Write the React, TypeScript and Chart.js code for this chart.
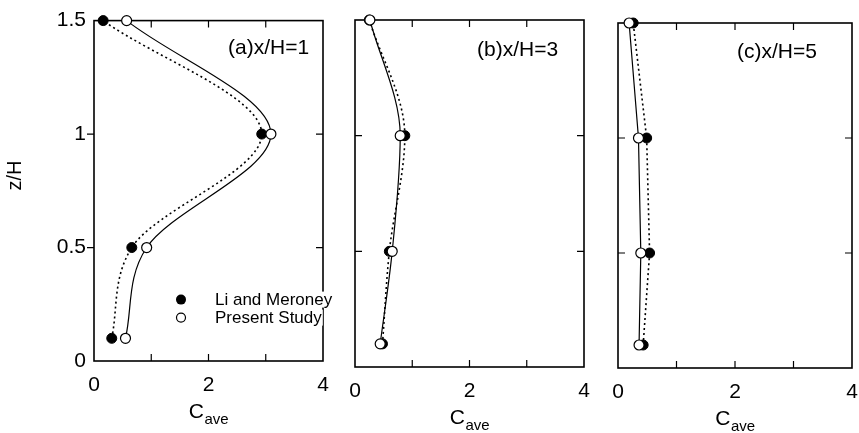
import React, { useEffect, useRef } from 'react';
import { Chart, registerables } from 'chart.js';

Chart.register(...registerables);

// ---- data ----
const zLevels = [0.1, 0.5, 1.0, 1.5];
const liMeroneyA = [0.31, 0.66, 2.93, 0.16];
const presentA = [0.55, 0.92, 3.09, 0.57];
const liMeroneyB = [0.48, 0.6, 0.87, 0.25];
const presentB = [0.44, 0.65, 0.79, 0.26];
const liMeroneyC = [0.43, 0.54, 0.49, 0.26];
const presentC = [0.36, 0.39, 0.35, 0.19];
const xTickValues = [0, 2, 4];
const yTickValues = [0, 0.5, 1, 1.5];
const xFrameTicks = [1, 2, 3];
const yFrameTicks = [0.5, 1];
const panelLabels = ['(a)x/H=1', '(b)x/H=3', '(c)x/H=5'];
const seriesNames = ['Li and Meroney', 'Present Study'];
const xTitleMain = 'C';
const xTitleSub = 'ave';
const yTitle = 'z/H';

const FONT = '"Liberation Sans", Arial, sans-serif';
const PAGE_H = 433;

type Area = { left: number; right: number; top: number; bottom: number };
type PanelSpec = {
  left: number;
  width: number;
  area: Area;
  li: number[];
  present: number[];
  label: string;
  labelDx: number;
  labelDy: number;
  showY: boolean;
  showLegend: boolean;
  smooth: boolean;
};

const panels: PanelSpec[] = [
  {
    left: 0, width: 345,
    area: { left: 94, right: 323, top: 15, bottom: 361 },
    li: liMeroneyA, present: presentA, label: panelLabels[0],
    labelDx: 134, labelDy: 28, showY: true, showLegend: true, smooth: true,
  },
  {
    left: 337, width: 268,
    area: { left: 355, right: 584, top: 20, bottom: 367 },
    li: liMeroneyB, present: presentB, label: panelLabels[1],
    labelDx: 122, labelDy: 30, showY: false, showLegend: false, smooth: true,
  },
  {
    left: 605, width: 254,
    area: { left: 618, right: 852, top: 23, bottom: 368 },
    li: liMeroneyC, present: presentC, label: panelLabels[2],
    labelDx: 119, labelDy: 29, showY: false, showLegend: false, smooth: false,
  },
];

function makePlugin(spec: PanelSpec) {
  return {
    id: 'frameAndText',
    beforeDatasetsDraw(chart: any) {
      const { ctx, chartArea: a, scales } = chart;
      ctx.save();
      ctx.strokeStyle = '#000';
      ctx.lineWidth = 1.6;
      ctx.strokeRect(a.left, a.top, a.right - a.left, a.bottom - a.top);
      ctx.lineWidth = 1.2;
      const L = 7;
      ctx.beginPath();
      for (const v of xFrameTicks) {
        const px = scales.x.getPixelForValue(v);
        ctx.moveTo(px, a.bottom);
        ctx.lineTo(px, a.bottom - L);
        ctx.moveTo(px, a.top);
        ctx.lineTo(px, a.top + L);
      }
      for (const v of yFrameTicks) {
        const py = scales.y.getPixelForValue(v);
        if (spec.showY) {
          ctx.moveTo(a.left - L, py);
          ctx.lineTo(a.left, py);
        } else {
          ctx.moveTo(a.left, py);
          ctx.lineTo(a.left + L, py);
        }
        ctx.moveTo(a.right, py);
        ctx.lineTo(a.right - L, py);
      }
      ctx.stroke();
      ctx.restore();
    },
    afterDraw(chart: any) {
      const { ctx, chartArea: a } = chart;
      ctx.save();
      ctx.fillStyle = '#000';
      // panel label
      ctx.font = `21px ${FONT}`;
      ctx.textAlign = 'left';
      ctx.textBaseline = 'middle';
      ctx.fillText(spec.label, a.left + spec.labelDx, a.top + spec.labelDy);

      // x title C_ave
      const cx = (a.left + a.right) / 2;
      ctx.font = `21px ${FONT}`;
      const wMain = ctx.measureText(xTitleMain).width;
      ctx.font = `15px ${FONT}`;
      const wSub = ctx.measureText(xTitleSub).width;
      const x0 = cx - (wMain + wSub) / 2;
      ctx.textBaseline = 'alphabetic';
      ctx.font = `21px ${FONT}`;
      ctx.fillText(xTitleMain, x0, a.bottom + 57);
      ctx.font = `15px ${FONT}`;
      ctx.fillText(xTitleSub, x0 + wMain + 0.5, a.bottom + 63);

      if (spec.showY) {
        ctx.save();
        ctx.translate(15, a.top + 155);
        ctx.rotate(-Math.PI / 2);
        ctx.font = `20px ${FONT}`;
        ctx.textAlign = 'center';
        ctx.textBaseline = 'middle';
        ctx.fillText(yTitle, 0, 0);
        ctx.restore();
      }

      if (spec.showLegend) {
        const mx = a.left + 87;
        const tx = a.left + 121;
        const y1 = a.top + 279;
        const gap = 18;
        ctx.font = `17px ${FONT}`;
        ctx.textBaseline = 'middle';
        ctx.textAlign = 'left';
        seriesNames.forEach((name, i) => {
          const y = y1 + i * gap;
          const w = ctx.measureText(name).width;
          ctx.fillStyle = '#fff';
          ctx.fillRect(tx - 1, y - 8, w + 2, 16);
          ctx.fillStyle = '#000';
          ctx.fillText(name, tx, y + 1);
          ctx.beginPath();
          ctx.arc(mx, y, i === 0 ? 5 : 4.5, 0, Math.PI * 2);
          if (i === 0) {
            ctx.fill();
          } else {
            ctx.fillStyle = '#fff';
            ctx.fill();
            ctx.lineWidth = 1.2;
            ctx.strokeStyle = '#000';
            ctx.stroke();
          }
        });
      }
      ctx.restore();
    },
  };
}

function Panel({ spec }: { spec: PanelSpec }) {
  const ref = useRef<HTMLCanvasElement | null>(null);
  useEffect(() => {
    if (!ref.current) return;
    const { area } = spec;
    const curve = spec.smooth
      ? { cubicInterpolationMode: 'monotone' }
      : { cubicInterpolationMode: 'default', tension: 0 };
    const chart = new Chart(ref.current, {
      type: 'line',
      data: {
        datasets: [
          {
            label: seriesNames[1],
            data: zLevels.map((z, i) => ({ x: spec.present[i], y: z })),
            borderColor: '#000',
            borderWidth: 1.2,
            pointRadius: 5,
            pointBackgroundColor: '#fff',
            pointBorderColor: '#000',
            pointBorderWidth: 1.2,
            ...curve,
            fill: false,
            clip: false,
          },
          {
            label: seriesNames[0],
            data: zLevels.map((z, i) => ({ x: spec.li[i], y: z })),
            borderColor: '#000',
            borderWidth: 1.6,
            borderDash: [2, 3],
            pointRadius: 5,
            pointBackgroundColor: '#000',
            pointBorderColor: '#000',
            pointBorderWidth: 1,
            ...curve,
            fill: false,
            clip: false,
          },
        ],
      } as any,
      options: {
        indexAxis: 'y',
        animation: false,
        responsive: false,
        devicePixelRatio: 1,
        events: [],
        layout: {
          padding: {
            left: 0,
            right: spec.left + spec.width - area.right,
            top: area.top,
            bottom: 0,
          },
        },
        plugins: { legend: { display: false }, tooltip: { enabled: false } },
        scales: {
          x: {
            type: 'linear',
            position: 'bottom',
            min: 0,
            max: 4,
            afterBuildTicks: (s: any) => {
              s.ticks = xTickValues.map((v) => ({ value: v }));
            },
            ticks: {
              color: '#000',
              padding: 0,
              font: { family: FONT, size: 21, lineHeight: 2.35 },
              callback: (v: any) => String(v),
            },
            grid: { display: false, drawTicks: false },
            border: { display: false },
            afterFit: (s: any) => {
              s.height = PAGE_H - area.bottom;
            },
          },
          y: {
            type: 'linear',
            position: 'left',
            display: spec.showY,
            min: 0,
            max: 1.5,
            afterBuildTicks: (s: any) => {
              s.ticks = yTickValues.map((v) => ({ value: v }));
            },
            ticks: {
              color: '#000',
              padding: 8,
              font: { family: FONT, size: 21 },
              callback: (v: any) => String(v),
            },
            grid: { display: false, drawTicks: false },
            border: { display: false },
            afterFit: (s: any) => {
              s.width = area.left - spec.left;
            },
          },
        },
      } as any,
      plugins: [makePlugin(spec)],
    });
    return () => chart.destroy();
  }, [spec]);
  return (
    <div style={{ position: 'absolute', left: spec.left, top: 0, width: spec.width, height: PAGE_H }}>
      <canvas ref={ref} width={spec.width} height={PAGE_H} style={{ width: spec.width, height: PAGE_H, display: 'block' }} />
    </div>
  );
}

export default function App() {
  return (
    <div style={{ position: 'fixed', left: 0, top: 0, width: 859, height: PAGE_H, background: '#fff', overflow: 'hidden' }}>
      {panels.map((p, i) => (
        <Panel key={i} spec={p} />
      ))}
    </div>
  );
}
